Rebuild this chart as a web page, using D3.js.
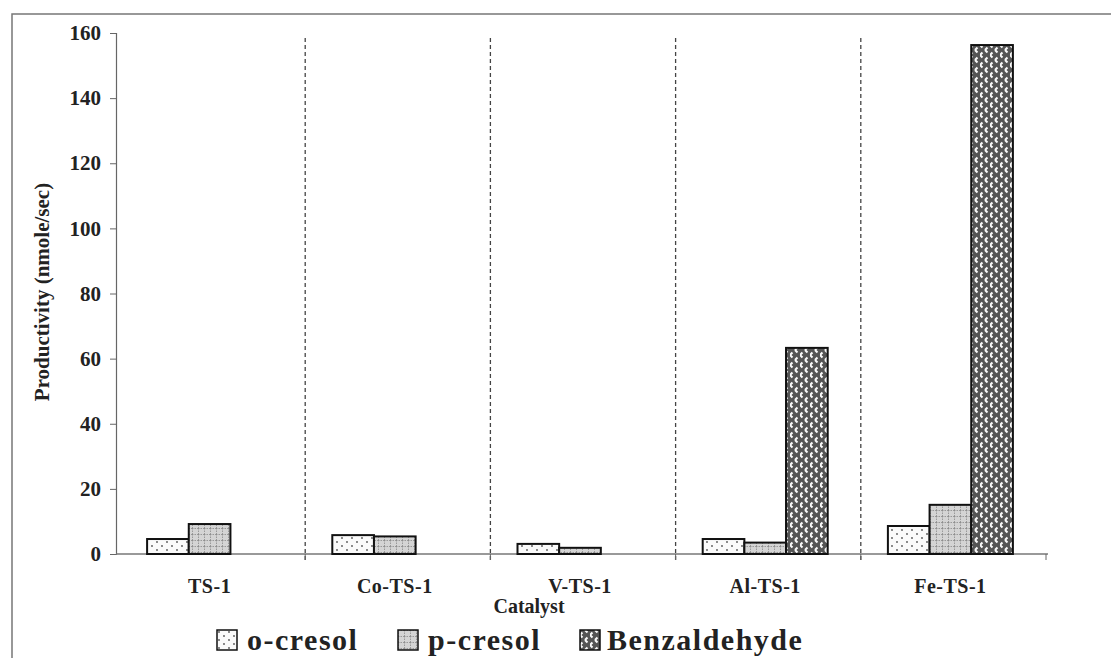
<!DOCTYPE html>
<html><head><meta charset="utf-8">
<script src="https://cdn.jsdelivr.net/npm/d3@7"></script>
<style>body{margin:0;background:#fff}svg{display:block}text{font-family:"Liberation Serif","Times New Roman",serif;font-weight:bold;fill:#222}</style>
</head><body><svg id="c" width="1111" height="658"></svg>
<script>
const categories = ["TS-1","Co-TS-1","V-TS-1","Al-TS-1","Fe-TS-1"];
const seriesNames = ["o-cresol","p-cresol","Benzaldehyde"];
const oCresol = [4.6, 5.8, 3.1, 4.6, 8.6];
const pCresol = [9.2, 5.4, 1.9, 3.5, 15.1];
const benzaldehyde = [0, 0, 0, 63.3, 156.3];
const yTicks = [0,20,40,60,80,100,120,140,160];

const svg = d3.select("#c");
const defs = svg.append("defs");
// o-cresol: white with sparse dots
const p1 = defs.append("pattern").attr("id","pat0").attr("patternUnits","userSpaceOnUse").attr("width",10).attr("height",8);
p1.append("rect").attr("width",10).attr("height",8).attr("fill","#fafafa");
p1.append("circle").attr("cx",2).attr("cy",2).attr("r",0.9).attr("fill","#555");
p1.append("circle").attr("cx",7).attr("cy",6).attr("r",0.9).attr("fill","#555");
// p-cresol: light gray grid of dots
const p2 = defs.append("pattern").attr("id","pat1").attr("patternUnits","userSpaceOnUse").attr("width",6).attr("height",6);
p2.append("rect").attr("width",6).attr("height",6).attr("fill","#d4d4d4");
p2.append("path").attr("d","M0,0.5H6M0.5,0V6").attr("stroke","#8a8a8a").attr("stroke-width",0.8).attr("stroke-dasharray","1.5,1");
// benzaldehyde: weave
const p3 = defs.append("pattern").attr("id","pat2").attr("patternUnits","userSpaceOnUse").attr("width",10).attr("height",10);
p3.append("rect").attr("width",10).attr("height",10).attr("fill","#555");
p3.append("path").attr("d","M0,5L5,0M5,10L10,5M5,0L10,5M0,5L5,10").attr("stroke","#fafafa").attr("stroke-width",2).attr("stroke-dasharray","3.5,3.5");

// frame
svg.append("path").attr("d","M12,660V14H1111").attr("fill","none").attr("stroke","#777").attr("stroke-width",1.5);

const x0 = d3.scaleBand().domain(categories).range([120,1046]).paddingInner(0).paddingOuter(0);
const groupW = 125;
const x1 = d3.scaleBand().domain(seriesNames).range([0,groupW]);
const y = d3.scaleLinear().domain([0,160]).range([554,33]);

// dashed separators
const seps = categories.slice(1);
svg.append("g").selectAll("line").data(seps).join("line")
  .attr("x1",d=>x0(d)).attr("x2",d=>x0(d)).attr("y1",38).attr("y2",562)
  .attr("stroke","#444").attr("stroke-width",1.3).attr("stroke-dasharray","4,3");

// y axis
const yAxis = svg.append("g").attr("transform","translate(116,0)")
  .call(d3.axisLeft(y).tickValues(yTicks).tickSize(6).tickPadding(9));
yAxis.select(".domain").attr("stroke","#666").attr("stroke-width",1.2);
yAxis.selectAll(".tick line").attr("stroke","#666");
yAxis.selectAll("text").style("font-size","21px").style("font-family","'Liberation Serif',serif").style("font-weight","bold").attr("fill","#222");

// x axis
svg.append("line").attr("x1",116).attr("x2",1048).attr("y1",y(0)).attr("y2",y(0)).attr("stroke","#777").attr("stroke-width",1.3);
svg.append("g").selectAll("line").data(categories.slice(1).concat(["__end"])).join("line")
  .attr("x1",d=>d==="__end"?1046:x0(d)).attr("x2",d=>d==="__end"?1046:x0(d))
  .attr("y1",y(0)).attr("y2",y(0)+6).attr("stroke","#666");
svg.append("g").selectAll("text").data(categories).join("text")
  .attr("x",d=>x0(d)+x0.bandwidth()/2-3).attr("y",593).attr("text-anchor","middle")
  .style("font-size","20px").style("letter-spacing","0.5px").text(d=>d);

// bars
const seriesData = [oCresol,pCresol,benzaldehyde];
seriesData.forEach((vals,si)=>{
  svg.append("g").selectAll("rect").data(vals.map((v,i)=>({c:categories[i],v}))).join("rect")
    .filter(d=>d.v>0)
    .attr("x",d=>x0(d.c)+(x0.bandwidth()-groupW)/2-3+x1(seriesNames[si]))
    .attr("width",x1.bandwidth())
    .attr("y",d=>y(d.v)).attr("height",d=>y(0)-y(d.v))
    .attr("fill",`url(#pat${si})`).attr("stroke","#111").attr("stroke-width",2);
});

// axis titles
svg.append("text").attr("x",529).attr("y",613).attr("text-anchor","middle").style("font-size","20px").text("Catalyst");
svg.append("text").attr("transform","translate(49,292) rotate(-90)").attr("text-anchor","middle").style("font-size","21px").text("Productivity (nmole/sec)");

// legend
const legX = [217,398,580];
const lg = svg.append("g").selectAll("g").data(seriesNames).join("g")
  .attr("transform",(d,i)=>`translate(${legX[i]},630)`);
lg.append("rect").attr("width",20).attr("height",20).attr("fill",(d,i)=>`url(#pat${i})`).attr("stroke","#111").attr("stroke-width",1.5);
lg.append("text").attr("x",(d,i)=>i===2?27:30).attr("y",20).style("font-size","30px").style("letter-spacing","1.5px").text(d=>d);
</script></body></html>
